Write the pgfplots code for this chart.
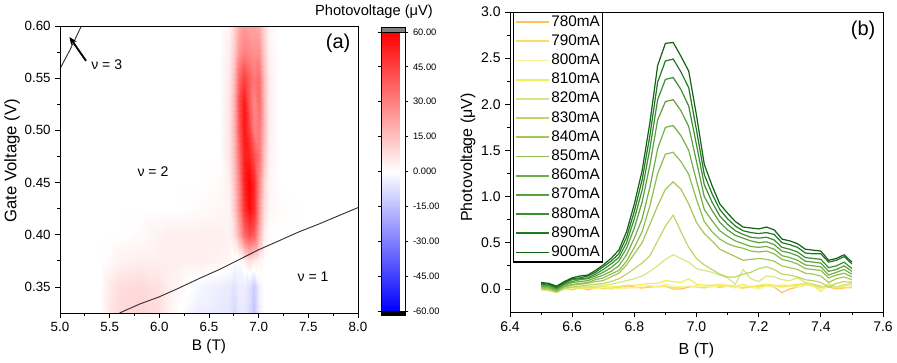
\documentclass[border=0pt]{standalone}
\usepackage{fontspec}
\setmainfont{Liberation Sans}
\usepackage{pgfplots}
\usepackage{pgfplotstable}
\pgfplotsset{compat=1.18}
\usetikzlibrary{arrows.meta}

\definecolor{c780}{RGB}{252,196,88}
\definecolor{c790}{RGB}{253,220,100}
\definecolor{c800}{RGB}{248,244,150}
\definecolor{c810}{RGB}{238,238,90}
\definecolor{c820}{RGB}{215,230,130}
\definecolor{c830}{RGB}{190,215,100}
\definecolor{c840}{RGB}{165,200,85}
\definecolor{c850}{RGB}{140,190,80}
\definecolor{c860}{RGB}{115,175,70}
\definecolor{c870}{RGB}{90,160,60}
\definecolor{c880}{RGB}{60,140,50}
\definecolor{c890}{RGB}{35,120,35}
\definecolor{c900}{RGB}{15,100,20}

\pgfplotstableread{
B c780 c790 c800 c810 c820 c830 c840 c850 c860 c870 c880 c890 c900
6.500 0.00 -0.01 0.01 0.00 -0.01 0.00 0.01 0.02 0.03 0.04 0.05 0.06 0.07
6.525 0.01 0.00 0.00 -0.01 -0.02 -0.01 0.00 0.01 0.02 0.03 0.04 0.05 0.06
6.550 0.00 -0.01 0.01 -0.02 -0.04 -0.03 -0.03 -0.02 -0.01 0.00 0.01 0.02 0.03
6.575 0.02 0.01 0.02 0.01 0.00 0.01 0.02 0.03 0.04 0.05 0.06 0.07 0.08
6.600 0.01 0.02 0.00 -0.01 -0.01 0.02 0.04 0.05 0.07 0.08 0.10 0.11 0.12
6.625 0.02 0.00 0.01 0.01 0.02 0.03 0.05 0.06 0.08 0.10 0.11 0.12 0.14
6.650 -0.01 0.01 0.03 0.02 0.02 0.04 0.06 0.07 0.09 0.11 0.12 0.14 0.15
6.675 0.01 0.02 0.00 0.01 0.03 0.05 0.08 0.10 0.12 0.14 0.16 0.18 0.20
6.700 0.02 0.00 0.02 0.03 0.04 0.06 0.09 0.12 0.15 0.18 0.21 0.24 0.26
6.725 0.00 0.01 0.01 0.02 0.05 0.08 0.13 0.16 0.19 0.23 0.27 0.30 0.33
6.750 0.01 0.02 0.00 0.03 0.07 0.11 0.17 0.20 0.25 0.30 0.34 0.38 0.42
6.775 0.03 0.01 0.02 0.04 0.09 0.16 0.26 0.30 0.37 0.44 0.50 0.56 0.62
6.800 0.02 0.02 0.01 0.04 0.11 0.22 0.38 0.45 0.55 0.66 0.76 0.84 0.92
6.825 0.01 0.01 0.03 0.05 0.14 0.28 0.50 0.62 0.76 0.94 1.07 1.18 1.28
6.850 0.02 0.03 0.04 0.06 0.19 0.36 0.70 0.90 1.10 1.34 1.52 1.66 1.80
6.875 0.03 0.02 0.02 0.06 0.25 0.52 0.90 1.25 1.52 1.83 2.05 2.24 2.42
6.900 0.03 0.03 0.05 0.09 0.32 0.68 1.08 1.46 1.75 2.03 2.27 2.47 2.66
6.925 0.00 0.01 0.03 0.08 0.37 0.80 1.16 1.48 1.77 2.05 2.29 2.49 2.67
6.950 0.00 0.02 0.02 0.07 0.33 0.62 1.08 1.38 1.66 1.93 2.16 2.35 2.52
6.975 0.02 0.03 0.03 0.11 0.29 0.45 0.92 1.24 1.50 1.76 1.98 2.18 2.36
7.000 0.03 0.02 0.02 0.05 0.22 0.33 0.72 0.97 1.17 1.38 1.56 1.72 1.88
7.025 0.02 0.01 0.03 0.04 0.20 0.26 0.60 0.73 0.86 1.00 1.13 1.24 1.35
7.050 0.03 0.03 0.02 0.04 0.18 0.21 0.52 0.62 0.74 0.85 0.94 1.03 1.12
7.075 0.02 0.02 0.04 0.05 0.15 0.16 0.43 0.54 0.63 0.72 0.79 0.86 0.92
7.100 0.03 0.03 0.03 0.04 0.12 0.13 0.39 0.49 0.57 0.64 0.70 0.76 0.82
7.125 0.02 0.02 0.01 0.03 0.05 0.13 0.35 0.46 0.52 0.58 0.63 0.68 0.73
7.150 0.01 0.01 0.03 0.05 0.21 0.16 0.31 0.44 0.49 0.55 0.59 0.63 0.67
7.175 0.02 0.03 0.02 0.02 0.11 0.18 0.32 0.41 0.46 0.52 0.56 0.61 0.66
7.200 0.03 0.02 0.00 0.04 0.08 0.22 0.33 0.40 0.45 0.50 0.55 0.60 0.65
7.225 0.04 0.04 0.03 0.05 0.14 0.24 0.32 0.41 0.46 0.51 0.56 0.61 0.67
7.250 0.02 0.03 0.02 0.04 0.13 0.21 0.30 0.38 0.43 0.48 0.53 0.59 0.64
7.275 -0.04 0.02 0.05 0.03 0.10 0.16 0.25 0.32 0.36 0.41 0.45 0.50 0.54
7.300 0.00 0.03 0.03 0.04 0.09 0.15 0.23 0.30 0.34 0.39 0.43 0.48 0.52
7.325 0.02 0.04 0.02 0.05 0.12 0.13 0.21 0.27 0.31 0.36 0.40 0.45 0.49
7.350 0.04 0.05 0.04 0.06 0.07 0.10 0.17 0.22 0.26 0.30 0.34 0.39 0.43
7.375 0.05 0.03 0.03 0.04 0.05 0.09 0.16 0.21 0.25 0.29 0.33 0.38 0.42
7.400 0.03 0.02 0.00 -0.03 0.01 0.07 0.14 0.20 0.24 0.28 0.32 0.38 0.41
7.425 0.02 0.04 0.07 0.05 0.04 0.02 0.07 0.12 0.15 0.19 0.23 0.29 0.31
7.450 0.00 0.01 0.02 0.01 0.02 0.06 0.11 0.15 0.18 0.21 0.25 0.31 0.33
7.475 0.01 0.02 0.03 0.03 0.05 0.08 0.13 0.17 0.21 0.25 0.29 0.35 0.37
7.500 0.02 0.01 0.08 0.06 0.04 0.07 0.10 0.13 0.16 0.19 0.22 0.27 0.29
}\curves

\begin{document}
\begin{tikzpicture}
\path[use as bounding box] (0,0) rectangle (672.75pt,272.25pt);
% ---------------- panel (a)
\begin{axis}[
  at={(45pt,37.5pt)}, anchor=south west, scale only axis,
  width=223.5pt, height=215.25pt,
  xmin=5, xmax=8, ymin=0.325, ymax=0.6,
  enlargelimits=false,
  xtick={5,5.5,6,6.5,7,7.5,8},
  ytick={0.35,0.40,0.45,0.50,0.55,0.60},
  minor x tick num=1, minor y tick num=1,
  tick align=outside, xtick pos=bottom, ytick pos=left,
  major tick length=3.5pt, minor tick length=2pt,
  axis line style={line width=0.7pt}, tick style={black, line width=0.6pt},
  x tick label style={/pgf/number format/.cd, fixed, fixed zerofill, precision=1, assume math mode=true},
  y tick label style={/pgf/number format/.cd, fixed, fixed zerofill, precision=2, assume math mode=true},
  ticklabel style={font=\fontsize{10}{11}\selectfont},
  xlabel={B (T)}, ylabel={Gate Voltage (V)},
  xlabel style={font=\fontsize{11.5}{13}\selectfont, at={(axis description cs:0.5,-0.118)}, anchor=center},
  ylabel style={font=\fontsize{12.5}{14}\selectfont, at={(axis description cs:-0.161,0.53)}, anchor=center},
  colormap={bwr}{rgb255=(0,0,255) rgb255=(255,255,255) rgb255=(255,0,0)},
  point meta min=-60, point meta max=60,
  colorbar,
  colorbar style={
    at={(1.0772,0.007)}, anchor=south west,
    width=18pt, height=209.25pt,
    ytick={-60,-45,-30,-15,0,15,30,45,60},
    yticklabels={-60.00,-45.00,-30.00,-15.00,0.000,15.00,30.00,45.00,60.00},
    yticklabel style={font=\fontsize{7}{8}\selectfont},
    tick align=outside, major tick length=2.5pt,
    axis line style={line width=0.6pt},
    extra description/.code={
      \filldraw[fill=gray, draw=black, line width=0.5pt] (axis description cs:0,1) rectangle ([yshift=3.4pt]axis description cs:1,1);
      \filldraw[fill=black, draw=black, line width=0.5pt] (axis description cs:0,0) rectangle ([yshift=-3.5pt]axis description cs:1,0);
    },
  },
  axis on top,
  clip=true,
]
\addplot[surf, shader=interp, mesh/cols=22, point meta=explicit] coordinates {
(5.0,0.325)[0] (5.4,0.325)[0] (5.5,0.325)[6] (5.6,0.325)[9] (5.8,0.325)[10] (6.0,0.325)[8] (6.1,0.325)[3] (6.2,0.325)[0] (6.4,0.325)[-4] (6.6,0.325)[-5] (6.7,0.325)[-6] (6.75,0.325)[-9] (6.8,0.325)[-5] (6.85,0.325)[-5] (6.9,0.325)[-8] (6.95,0.325)[-14] (7.0,0.325)[-4] (7.05,0.325)[0] (7.1,0.325)[0] (7.2,0.325)[0] (7.5,0.325)[0] (8.0,0.325)[0]
(5.0,0.35)[0] (5.4,0.35)[0] (5.5,0.35)[5] (5.6,0.35)[8] (5.8,0.35)[9] (6.0,0.35)[7] (6.1,0.35)[4] (6.2,0.35)[2] (6.4,0.35)[-2] (6.6,0.35)[-4] (6.7,0.35)[-5] (6.75,0.35)[-7] (6.8,0.35)[-4] (6.85,0.35)[-4] (6.9,0.35)[-7] (6.95,0.35)[-12] (7.0,0.35)[-3] (7.05,0.35)[0] (7.1,0.35)[0] (7.2,0.35)[0] (7.5,0.35)[0] (8.0,0.35)[0]
(5.0,0.375)[0] (5.4,0.375)[0] (5.5,0.375)[1] (5.6,0.375)[3] (5.8,0.375)[4] (6.0,0.375)[4] (6.1,0.375)[4] (6.2,0.375)[4] (6.4,0.375)[4] (6.6,0.375)[3] (6.7,0.375)[2] (6.75,0.375)[-1] (6.8,0.375)[-1] (6.85,0.375)[3] (6.9,0.375)[8] (6.95,0.375)[4] (7.0,0.375)[2] (7.05,0.375)[0] (7.1,0.375)[0] (7.2,0.375)[0] (7.5,0.375)[0] (8.0,0.375)[0]
(5.0,0.40)[0] (5.4,0.40)[0] (5.5,0.40)[0] (5.6,0.40)[0] (5.8,0.40)[1] (6.0,0.40)[3] (6.1,0.40)[4] (6.2,0.40)[4] (6.4,0.40)[4] (6.6,0.40)[4] (6.7,0.40)[3] (6.75,0.40)[8] (6.8,0.40)[20] (6.85,0.40)[35] (6.9,0.40)[42] (6.95,0.40)[38] (7.0,0.40)[18] (7.05,0.40)[4] (7.1,0.40)[0] (7.2,0.40)[0] (7.5,0.40)[0] (8.0,0.40)[0]
(5.0,0.425)[0] (5.4,0.425)[0] (5.5,0.425)[0] (5.6,0.425)[0] (5.8,0.425)[0] (6.0,0.425)[0] (6.1,0.425)[0] (6.2,0.425)[0] (6.4,0.425)[1] (6.6,0.425)[2] (6.7,0.425)[3] (6.75,0.425)[12] (6.8,0.425)[28] (6.85,0.425)[48] (6.9,0.425)[58] (6.95,0.425)[50] (7.0,0.425)[25] (7.05,0.425)[8] (7.1,0.425)[2] (7.2,0.425)[1] (7.5,0.425)[0] (8.0,0.425)[0]
(5.0,0.45)[0] (5.4,0.45)[0] (5.5,0.45)[0] (5.6,0.45)[0] (5.8,0.45)[0] (6.0,0.45)[0] (6.1,0.45)[0] (6.2,0.45)[0] (6.4,0.45)[0] (6.6,0.45)[1] (6.7,0.45)[4] (6.75,0.45)[14] (6.8,0.45)[30] (6.85,0.45)[52] (6.9,0.45)[60] (6.95,0.45)[50] (7.0,0.45)[28] (7.05,0.45)[10] (7.1,0.45)[2] (7.2,0.45)[0] (7.5,0.45)[0] (8.0,0.45)[0]
(5.0,0.475)[0] (5.4,0.475)[0] (5.5,0.475)[0] (5.6,0.475)[0] (5.8,0.475)[0] (6.0,0.475)[0] (6.1,0.475)[0] (6.2,0.475)[0] (6.4,0.475)[0] (6.6,0.475)[0] (6.7,0.475)[6] (6.75,0.475)[16] (6.8,0.475)[35] (6.85,0.475)[52] (6.9,0.475)[52] (6.95,0.475)[42] (7.0,0.475)[33] (7.05,0.475)[14] (7.1,0.475)[3] (7.2,0.475)[0] (7.5,0.475)[0] (8.0,0.475)[0]
(5.0,0.50)[0] (5.4,0.50)[0] (5.5,0.50)[0] (5.6,0.50)[0] (5.8,0.50)[0] (6.0,0.50)[0] (6.1,0.50)[0] (6.2,0.50)[0] (6.4,0.50)[0] (6.6,0.50)[0] (6.7,0.50)[6] (6.75,0.50)[18] (6.8,0.50)[40] (6.85,0.50)[55] (6.9,0.50)[45] (6.95,0.50)[30] (7.0,0.50)[32] (7.05,0.50)[16] (7.1,0.50)[4] (7.2,0.50)[0] (7.5,0.50)[0] (8.0,0.50)[0]
(5.0,0.525)[0] (5.4,0.525)[0] (5.5,0.525)[0] (5.6,0.525)[0] (5.8,0.525)[0] (6.0,0.525)[0] (6.1,0.525)[0] (6.2,0.525)[0] (6.4,0.525)[0] (6.6,0.525)[0] (6.7,0.525)[6] (6.75,0.525)[18] (6.8,0.525)[42] (6.85,0.525)[55] (6.9,0.525)[40] (6.95,0.525)[28] (7.0,0.525)[35] (7.05,0.525)[16] (7.1,0.525)[4] (7.2,0.525)[0] (7.5,0.525)[0] (8.0,0.525)[0]
(5.0,0.55)[0] (5.4,0.55)[0] (5.5,0.55)[0] (5.6,0.55)[0] (5.8,0.55)[0] (6.0,0.55)[0] (6.1,0.55)[0] (6.2,0.55)[0] (6.4,0.55)[0] (6.6,0.55)[0] (6.7,0.55)[5] (6.75,0.55)[16] (6.8,0.55)[36] (6.85,0.55)[45] (6.9,0.55)[38] (6.95,0.55)[32] (7.0,0.55)[35] (7.05,0.55)[15] (7.1,0.55)[4] (7.2,0.55)[0] (7.5,0.55)[0] (8.0,0.55)[0]
(5.0,0.575)[0] (5.4,0.575)[0] (5.5,0.575)[0] (5.6,0.575)[0] (5.8,0.575)[0] (6.0,0.575)[0] (6.1,0.575)[0] (6.2,0.575)[0] (6.4,0.575)[0] (6.6,0.575)[0] (6.7,0.575)[4] (6.75,0.575)[12] (6.8,0.575)[25] (6.85,0.575)[30] (6.9,0.575)[28] (6.95,0.575)[26] (7.0,0.575)[26] (7.05,0.575)[12] (7.1,0.575)[3] (7.2,0.575)[0] (7.5,0.575)[0] (8.0,0.575)[0]
(5.0,0.60)[0] (5.4,0.60)[0] (5.5,0.60)[0] (5.6,0.60)[0] (5.8,0.60)[0] (6.0,0.60)[0] (6.1,0.60)[0] (6.2,0.60)[0] (6.4,0.60)[0] (6.6,0.60)[0] (6.7,0.60)[3] (6.75,0.60)[10] (6.8,0.60)[20] (6.85,0.60)[24] (6.9,0.60)[22] (6.95,0.60)[22] (7.0,0.60)[20] (7.05,0.60)[10] (7.1,0.60)[2] (7.2,0.60)[0] (7.5,0.60)[0] (8.0,0.60)[0]
};
\addplot[black!80, line width=0.7pt] coordinates {(5.6,0.325) (5.8,0.3335) (6.0,0.3405) (6.2,0.3490) (6.4,0.3580) (6.6,0.3665) (6.8,0.3760) (7.0,0.3856) (7.2,0.3940) (7.4,0.4025) (7.6,0.4100) (7.8,0.4180) (8.0,0.4260)};
\addplot[black!80, line width=0.7pt] coordinates {(5.0,0.559) (5.05,0.568) (5.1,0.577) (5.15,0.587) (5.2,0.597) (5.215,0.600)};
\draw[-{Stealth[length=6pt,width=5pt]}, line width=1.4pt] (axis cs:5.262,0.5666) -- (axis cs:5.095,0.5895);
\node[font=\fontsize{10.5}{12}\selectfont] at (axis cs:5.47,0.5628) {ν = 3};
\node[font=\fontsize{10.5}{12}\selectfont] at (axis cs:5.936,0.460) {ν = 2};
\node[font=\fontsize{10.5}{12}\selectfont] at (axis cs:7.547,0.360) {ν = 1};
\node[font=\fontsize{15}{17}\selectfont] at (axis cs:7.80,0.583) {(a)};
\end{axis}
\node[font=\fontsize{11}{13}\selectfont] at (280.5pt,263.25pt) {Photovoltage (μV)};
% ---------------- panel (b)
\begin{axis}[
  at={(382.5pt,38.25pt)}, anchor=south west, scale only axis,
  width=279.75pt, height=225pt,
  xmin=6.4, xmax=7.6, ymin=-0.25, ymax=3.0,
  xtick={6.4,6.6,6.8,7.0,7.2,7.4,7.6},
  ytick={0,0.5,1,1.5,2,2.5,3},
  minor x tick num=1, minor y tick num=1,
  tick align=outside, xtick pos=bottom, ytick pos=left,
  major tick length=3.5pt, minor tick length=2pt,
  axis line style={line width=0.7pt}, tick style={black, line width=0.6pt},
  x tick label style={/pgf/number format/.cd, fixed, fixed zerofill, precision=1, assume math mode=true},
  y tick label style={/pgf/number format/.cd, fixed, fixed zerofill, precision=1, assume math mode=true},
  ticklabel style={font=\fontsize{10.5}{12}\selectfont},
  xlabel={B (T)}, ylabel={Photovoltage (μV)},
  label style={font=\fontsize{12}{14}\selectfont},
  xlabel style={at={(axis description cs:0.5,-0.127)}, anchor=center},
  ylabel style={at={(axis description cs:-0.1126,0.515)}, anchor=center},
  legend style={at={(axis description cs:0.008,1)}, anchor=north west, draw=black, line width=0.9pt,
    font=\fontsize{11.5}{13}\selectfont, row sep=2.2pt, inner sep=1pt,
    nodes={inner sep=1pt, text height=8.2pt, text depth=2pt}},
  legend cell align=left,
  legend image code/.code={\draw[#1, line width=1.3pt] (0pt,0pt) -- (25pt,0pt);},
  every axis plot/.append style={line width=0.9pt},
]
\addplot[c780] table[x=B,y=c780]{\curves}; \addlegendentry{780mA}
\addplot[c790] table[x=B,y=c790]{\curves}; \addlegendentry{790mA}
\addplot[c800] table[x=B,y=c800]{\curves}; \addlegendentry{800mA}
\addplot[c810] table[x=B,y=c810]{\curves}; \addlegendentry{810mA}
\addplot[c820] table[x=B,y=c820]{\curves}; \addlegendentry{820mA}
\addplot[c830] table[x=B,y=c830]{\curves}; \addlegendentry{830mA}
\addplot[c840] table[x=B,y=c840]{\curves}; \addlegendentry{840mA}
\addplot[c850] table[x=B,y=c850]{\curves}; \addlegendentry{850mA}
\addplot[c860] table[x=B,y=c860]{\curves}; \addlegendentry{860mA}
\addplot[c870] table[x=B,y=c870]{\curves}; \addlegendentry{870mA}
\addplot[c880] table[x=B,y=c880]{\curves}; \addlegendentry{880mA}
\addplot[c890] table[x=B,y=c890]{\curves}; \addlegendentry{890mA}
\addplot[c900] table[x=B,y=c900]{\curves}; \addlegendentry{900mA}
\node[font=\fontsize{15}{17}\selectfont] at (axis cs:7.536,2.80) {(b)};
\end{axis}
\end{tikzpicture}
\end{document}
